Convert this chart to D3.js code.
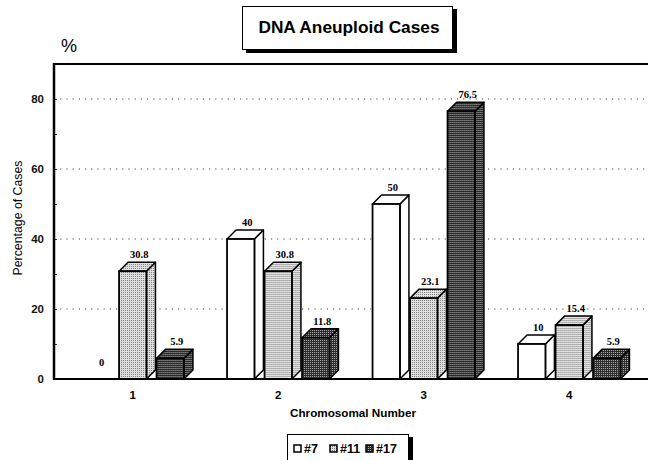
<!DOCTYPE html>
<html>
<head>
<meta charset="utf-8">
<script src="https://cdn.jsdelivr.net/npm/d3@7"></script>
<style>
body { margin: 0; background: #fff; }
</style>
</head>
<body>
<script>
// data
var kategorie = ["1", "2", "3", "4"]
var serie = ["#7", "#11", "#17"]
var wartosci7 = [0, 40, 50, 10]
var wartosci11 = [30.8, 30.8, 23.1, 15.4]
var wartosci17 = [5.9, 11.8, 76.5, 5.9]
var glowneTiki = [0, 20, 40, 60, 80]
var pomocneTiki = [10, 30, 50, 70]

var dane = []
kategorie.forEach(function(k, i) {
  dane.push({kat: k, ser: "#7", v: wartosci7[i]})
  dane.push({kat: k, ser: "#11", v: wartosci11[i]})
  dane.push({kat: k, ser: "#17", v: wartosci17[i]})
})

var obrazek = d3.select("body").append("svg")
  .attr("width", 648)
  .attr("height", 460)
  .style("font-family", "'Liberation Sans', Arial, sans-serif")

// stipple patterns
var defs = obrazek.append("defs")
var jasny = defs.append("pattern").attr("id", "jasny").attr("width", 2).attr("height", 2).attr("patternUnits", "userSpaceOnUse")
jasny.append("rect").attr("width", 2).attr("height", 2).style("fill", "#e2e2e2")
jasny.append("rect").attr("width", 1).attr("height", 1).style("fill", "#7a7a7a")
var ciemny = defs.append("pattern").attr("id", "ciemny").attr("width", 2).attr("height", 2).attr("patternUnits", "userSpaceOnUse")
ciemny.append("rect").attr("width", 2).attr("height", 2).style("fill", "#2a2a2a")
ciemny.append("rect").attr("width", 1).attr("height", 1).style("fill", "#b0b0b0")

var kolor = d3.scaleOrdinal().domain(serie).range(["#ffffff", "url(#jasny)", "url(#ciemny)"])

var lewo = 54, gora = 64, dol = 379, prawo = 648
var x = d3.scaleBand().domain(kategorie).range([60, 642])
var srodek = x.bandwidth() / 2
var xs = d3.scaleBand().domain(serie).range([srodek - 51.2, srodek + 51.2]).paddingInner(0.27)
var y = d3.scaleLinear().domain([0, 90]).range([dol, gora])
var glab = 9
var w = xs.bandwidth()

// grid lines
obrazek.append("g").selectAll("line")
  .data(glowneTiki.slice(1))
  .enter()
  .append("line")
  .attr("x1", lewo).attr("x2", prawo)
  .attr("y1", function(d) { return y(d) })
  .attr("y2", function(d) { return y(d) })
  .style("stroke", "#444")
  .style("stroke-width", 1)
  .style("stroke-dasharray", "1.2,5")

// y axis
var osY = obrazek.append("g").attr("transform", "translate(" + lewo + ",0)")
  .call(d3.axisLeft(y).tickValues(glowneTiki).tickSize(0).tickPadding(10))
osY.select(".domain").remove()
osY.selectAll("text").style("font-size", "11.5px").style("font-weight", "bold").style("font-family", "'Liberation Sans', Arial, sans-serif").style("fill", "#111")
var osY2 = obrazek.append("g").attr("transform", "translate(" + lewo + ",0)")
  .call(d3.axisRight(y).tickValues(glowneTiki.slice(1).concat(pomocneTiki)).tickSize(3).tickFormat(""))
osY2.select(".domain").remove()
osY2.selectAll("line").style("stroke", "#333")

// bars
var slupki = obrazek.append("g").selectAll("g")
  .data(dane.filter(function(d) { return d.v > 0 }))
  .enter()
  .append("g")
  .attr("transform", function(d) { return "translate(" + (x(d.kat) + xs(d.ser)) + ",0)" })

slupki.append("path")
  .attr("d", function(d) {
    var t = y(d.v)
    return "M" + w + "," + dol + "L" + (w + glab) + "," + (dol - glab) + "L" + (w + glab) + "," + (t - glab) + "L" + w + "," + t + "Z"
  })
  .style("fill", function(d) { return kolor(d.ser) })
  .style("stroke", "#000").style("stroke-width", 1.5).style("stroke-linejoin", "round")
slupki.append("path")
  .attr("d", function(d) {
    var t = y(d.v)
    return "M0," + t + "L" + glab + "," + (t - glab) + "L" + (w + glab) + "," + (t - glab) + "L" + w + "," + t + "Z"
  })
  .style("fill", function(d) { return kolor(d.ser) })
  .style("stroke", "#000").style("stroke-width", 1.5).style("stroke-linejoin", "round")
slupki.append("rect")
  .attr("x", 0)
  .attr("y", function(d) { return y(d.v) })
  .attr("width", w)
  .attr("height", function(d) { return dol - y(d.v) })
  .style("fill", function(d) { return kolor(d.ser) })
  .style("stroke", "#000").style("stroke-width", 1.8)

// value labels
obrazek.append("g").selectAll("text")
  .data(dane)
  .enter()
  .append("text")
  .attr("x", function(d) { return x(d.kat) + xs(d.ser) + w / 2 + glab / 2 + 2 })
  .attr("y", function(d) { return y(d.v) - glab - 4 })
  .attr("text-anchor", "middle")
  .style("font-family", "'Liberation Serif', 'Times New Roman', serif")
  .style("font-weight", "bold")
  .style("font-size", "10.5px")
  .style("fill", "#000")
  .text(function(d) { return d.v })

// frame
obrazek.append("line").attr("x1", lewo).attr("x2", prawo).attr("y1", gora).attr("y2", gora).style("stroke", "#000").style("stroke-width", 2)
obrazek.append("line").attr("x1", lewo).attr("x2", lewo).attr("y1", gora - 1).attr("y2", dol + 1).style("stroke", "#000").style("stroke-width", 2.5)
obrazek.append("line").attr("x1", lewo - 1).attr("x2", prawo).attr("y1", dol).attr("y2", dol).style("stroke", "#000").style("stroke-width", 2)

// x axis labels
obrazek.append("g").selectAll("text")
  .data(kategorie)
  .enter()
  .append("text")
  .attr("x", function(d) { return x(d) + srodek })
  .attr("y", 399)
  .attr("text-anchor", "middle")
  .style("font-size", "11.5px").style("font-weight", "bold")
  .text(function(d) { return d })

obrazek.append("text").attr("x", 353).attr("y", 417).attr("text-anchor", "middle")
  .style("font-size", "11.7px").style("font-weight", "bold").text("Chromosomal Number")
obrazek.append("text").attr("transform", "translate(22,218) rotate(-90)").attr("text-anchor", "middle")
  .style("font-size", "12.3px").text("Percentage of Cases")
obrazek.append("text").attr("x", 61).attr("y", 52)
  .style("font-size", "18px").text("%")

// title box
obrazek.append("rect").attr("x", 246).attr("y", 9).attr("width", 211).attr("height", 44).style("fill", "#000")
obrazek.append("rect").attr("x", 242.5).attr("y", 6.5).attr("width", 210).attr("height", 43).style("fill", "#fff").style("stroke", "#000").style("stroke-width", 1)
obrazek.append("text").attr("x", 349).attr("y", 33).attr("text-anchor", "middle")
  .style("font-size", "17.3px").style("font-weight", "bold").text("DNA Aneuploid Cases")

// legend
obrazek.append("rect").attr("x", 290).attr("y", 437).attr("width", 123).attr("height", 30).style("fill", "#000")
obrazek.append("rect").attr("x", 287.5).attr("y", 434.5).attr("width", 121).attr("height", 30).style("fill", "#fff").style("stroke", "#000").style("stroke-width", 1)
var legX = [294, 330, 366]
var leg = obrazek.append("g").selectAll("g")
  .data(serie)
  .enter()
  .append("g")
  .attr("transform", function(d, i) { return "translate(" + legX[i] + ",0)" })
leg.append("rect").attr("x", 0).attr("y", 445).attr("width", 7).attr("height", 7)
  .style("fill", function(d) { return kolor(d) }).style("stroke", "#000").style("stroke-width", 1.5)
leg.append("text").attr("x", 10).attr("y", 453)
  .style("font-size", "12.5px").style("font-weight", "bold").text(function(d) { return d })
</script>
</body>
</html>
